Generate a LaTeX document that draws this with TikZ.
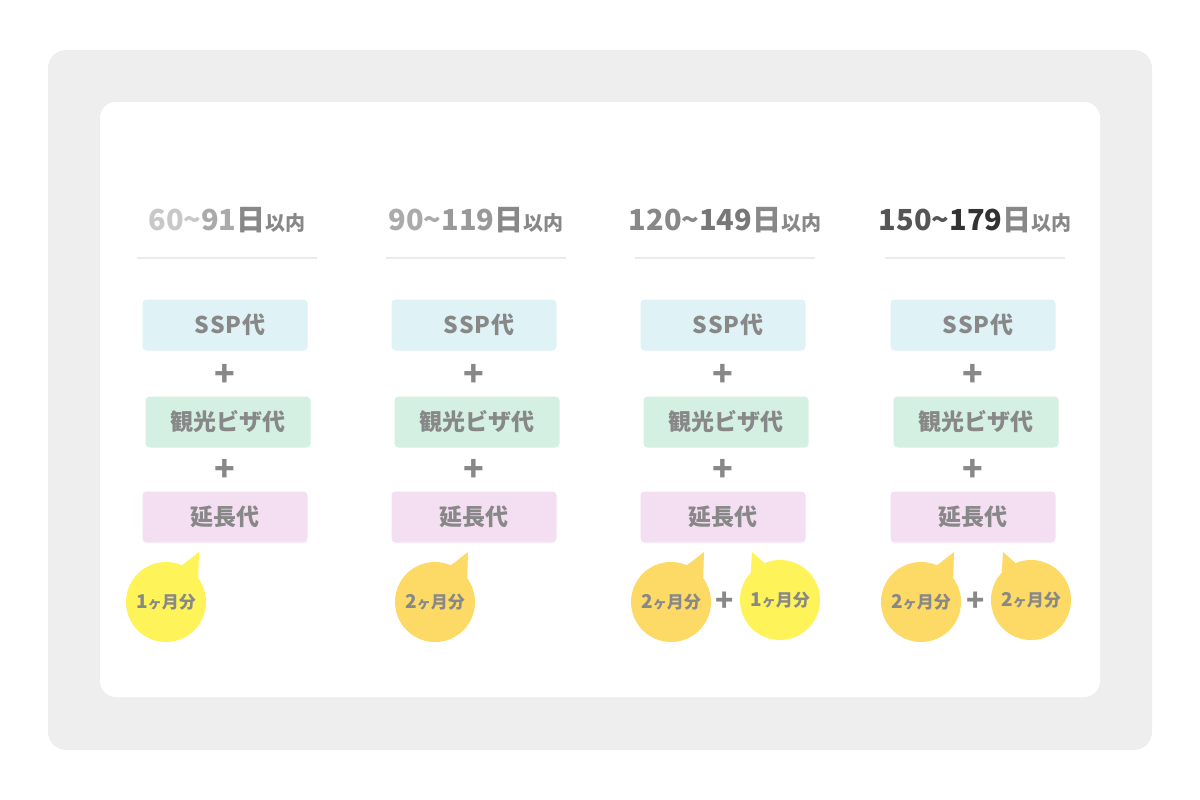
\documentclass[tikz,border=0pt]{standalone}
\usepackage{fontspec}
\newfontfamily\jp{Noto Sans CJK JP Black}
\definecolor{bg}{HTML}{EEEEEE}
\definecolor{tx}{HTML}{888888}
\definecolor{ssp}{HTML}{DFF2F6}
\definecolor{visa}{HTML}{D3F0E2}
\definecolor{ext}{HTML}{F4DFF2}
\definecolor{yel}{HTML}{FFF35A}
\definecolor{org}{HTML}{FDD966}
\definecolor{ln}{HTML}{EBEBEB}
\tikzset{
 box/.style={rounded corners=4pt,minimum width=165pt,minimum height=51pt,font=\jp\fontsize{23}{23}\selectfont,text=tx,inner sep=0pt},
 plus/.style={font=\jp\fontsize{34}{34}\selectfont,text=tx,inner sep=0pt},
 btext/.style={font=\jp\fontsize{17}{17}\selectfont,text=tx,inner sep=0pt},
 head/.style={font=\jp\fontsize{29}{29}\selectfont,inner sep=0pt}
}
\newcommand{\sm}[1]{{\fontsize{20}{20}\selectfont #1}}
\newcommand{\hd}[4]{\textcolor[HTML]{#1}{#3}\textcolor[HTML]{#2}{#4}\textcolor{tx}{日\sm{以内}}}
\newcommand{\bt}[1]{\fontsize{19}{19}\selectfont#1\fontsize{14}{14}\selectfont ヶ\fontsize{17}{17}\selectfont 月分}
\begin{document}
\begin{tikzpicture}[x=1pt,y=-1pt]
\useasboundingbox (0,0) rectangle (1200,800);
\fill[bg,rounded corners=18pt] (48,50) rectangle (1152,750);
\fill[white,rounded corners=16pt] (100,102) rectangle (1100,697);
\foreach \c/\n [count=\i] in {227/a,476/b,725/c,975/d}{
  \draw[ln,line width=2.5pt] (\c-90,258) -- (\c+90,258);
  \node[box,fill=ssp] (ssp\n) at (\c-2,325) {\hspace{10pt}S\kern1pt S\kern1pt P\kern1pt 代};
  \node[plus] (p1\n) at (\c-2,375) {+};
  \node[box,fill=visa] (visa\n) at (\c+1,422) {観光ビザ代};
  \node[plus] (p2\n) at (\c-2,470) {+};
  \node[box,fill=ext] (ext\n) at (\c-2,517) {延長代};
}
\node[head] (ha) at (227,220) {\hd{C8C8C8}{AAAAAA}{60\textasciitilde}{91}};
\node[head] (hb) at (476,220) {\hd{AAAAAA}{999999}{90\textasciitilde}{119}};
\node[head] (hc) at (725,220) {\hd{888888}{777777}{120\textasciitilde}{149}};
\node[head] (hd) at (975,220) {\hd{555555}{333333}{150\textasciitilde}{179}};
\foreach \x/\col/\t/\nm in {166/yel/1/ba,435/org/2/bb,671/org/2/bc,921/org/2/bd}{
  \fill[\col] (\x,602) circle (40pt);
  \fill[\col] (\x+10,570) -- (\x+33,552) -- (\x+32,585) -- cycle;
  \node[btext] (\nm) at (\x,602) {\bt{\t}};
}
\foreach \x/\col/\t/\nm in {780/yel/1/be,1031/org/2/bf}{
  \fill[\col] (\x,600) circle (40pt);
  \fill[\col] (\x-10,568) -- (\x-28,552) -- (\x-30,585) -- cycle;
  \node[btext] (\nm) at (\x,600) {\bt{\t}};
}
\node[plus,font=\jp\fontsize{30}{30}\selectfont] (pc) at (725,602) {+};
\node[plus,font=\jp\fontsize{30}{30}\selectfont] (pd) at (976,602) {+};
\end{tikzpicture}
\end{document}
